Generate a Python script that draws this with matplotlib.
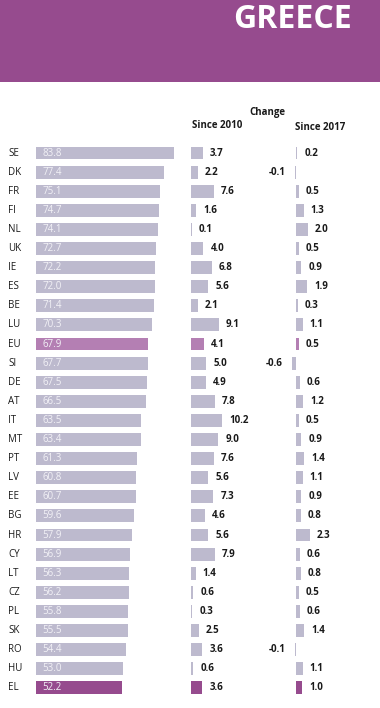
import matplotlib.pyplot as plt
from matplotlib.patches import Rectangle
from matplotlib.transforms import blended_transform_factory

# Data
countries = ['SE', 'DK', 'FR', 'FI', 'NL', 'UK', 'IE', 'ES', 'BE', 'LU', 'EU', 'SI', 'DE', 'AT',
             'IT', 'MT', 'PT', 'LV', 'EE', 'BG', 'HR', 'CY', 'LT', 'CZ', 'PL', 'SK', 'RO', 'HU', 'EL']
score = [83.8, 77.4, 75.1, 74.7, 74.1, 72.7, 72.2, 72.0, 71.4, 70.3, 67.9, 67.7, 67.5, 66.5,
         63.5, 63.4, 61.3, 60.8, 60.7, 59.6, 57.9, 56.9, 56.3, 56.2, 55.8, 55.5, 54.4, 53.0, 52.2]
since_2010 = [3.7, 2.2, 7.6, 1.6, 0.1, 4.0, 6.8, 5.6, 2.1, 9.1, 4.1, 5.0, 4.9, 7.8,
              10.2, 9.0, 7.6, 5.6, 7.3, 4.6, 5.6, 7.9, 1.4, 0.6, 0.3, 2.5, 3.6, 0.6, 3.6]
since_2017 = [0.2, -0.1, 0.5, 1.3, 2.0, 0.5, 0.9, 1.9, 0.3, 1.1, 0.5, -0.6, 0.6, 1.2,
              0.5, 0.9, 1.4, 1.1, 0.9, 0.8, 2.3, 0.6, 0.8, 0.5, 0.6, 1.4, -0.1, 1.1, 1.0]

GREY = '#bdbace'
EU_COL = '#b47fb3'
EL_COL = '#964b8e'
TEXT = '#1a1a1a'

plt.rcParams['font.family'] = ['Open Sans', 'DejaVu Sans']

W, H = 380, 708
fig = plt.figure(figsize=(W / 100, H / 100), dpi=100)


def px_axes(x, y, w, h):
    # place an axes using pixel coords measured from the top-left corner
    return fig.add_axes([x / W, 1 - (y + h) / H, w / W, h / H])


colors = [EU_COL if c == 'EU' else EL_COL if c == 'EL' else GREY for c in countries]
n = len(countries)
rows = list(range(n))

# header band
fig.patches.append(Rectangle((0, 1 - 82 / H), 1, 82 / H, transform=fig.transFigure,
                             facecolor=EL_COL, edgecolor='none', zorder=0))
fig.text(352 / W, 1 - 19 / H, 'GREECE', ha='right', va='center', color='white',
         fontsize=23, fontweight='bold')

row_h = 19.1
top = 153 - row_h / 2
height = row_h * n

ax_main = px_axes(36, top, 150, height)
ax_10 = px_axes(191.5, top, 80, height)
ax_17 = px_axes(250, top, 130, height)

for ax in (ax_main, ax_10, ax_17):
    ax.set_ylim(n - 0.5, -0.5)
    ax.axis('off')

ax_main.set_xlim(0, 150 / 1.65)
ax_10.set_xlim(0, 80 / 3.0)
ax_17.set_xlim(-46 / 6.0, 84 / 6.0)

ax_main.barh(rows, score, height=0.68, color=colors)
ax_10.barh(rows, since_2010, height=0.68, color=colors)
ax_17.barh(rows, since_2017, height=0.68, color=colors)

lbl_tr = blended_transform_factory(fig.transFigure, ax_main.transData)
for i, c in enumerate(countries):
    ax_main.text(8 / W, i, c, transform=lbl_tr, ha='left', va='center',
                 fontsize=7, color=TEXT)
    ax_main.annotate(f'{score[i]:.1f}', (0, i), xytext=(4.5, 0), textcoords='offset points',
                     ha='left', va='center', fontsize=7, color='#f2f1f6')
    for ax, vals in ((ax_10, since_2010), (ax_17, since_2017)):
        v = vals[i]
        if v >= 0:
            ax.annotate(f'{v:.1f}', (v, i), xytext=(5, 0), textcoords='offset points',
                        ha='left', va='center', fontsize=7, fontweight='bold', color=TEXT)
        else:
            ax.annotate(f'{v:.1f}', (v, i), xytext=(-7, 0), textcoords='offset points',
                        ha='right', va='center', fontsize=7, fontweight='bold', color=TEXT)

# column headers
fig.text(267 / W, 1 - 112 / H, 'Change', ha='center', va='center', fontsize=7,
         fontweight='bold', color=TEXT)
fig.text(217 / W, 1 - 125 / H, 'Since 2010', ha='center', va='center', fontsize=7,
         fontweight='bold', color=TEXT)
fig.text(320 / W, 1 - 128 / H, 'Since 2017', ha='center', va='center', fontsize=7,
         fontweight='bold', color=TEXT)

fig.savefig('out.png', dpi=100, facecolor='white')
